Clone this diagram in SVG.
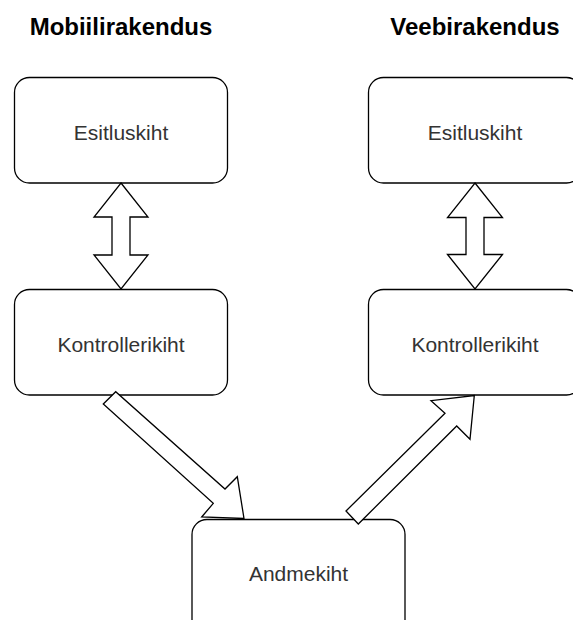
<svg xmlns="http://www.w3.org/2000/svg" width="573" height="620" viewBox="0 0 573 620">
  <style>
    .box { fill: #ffffff; stroke: #000000; stroke-width: 1.3; }
    .lbl { font-family: "Liberation Sans", Arial, sans-serif; font-size: 21px; fill: #333333; text-anchor: middle; }
    .title { font-family: "Liberation Sans", Arial, sans-serif; font-size: 24px; font-weight: bold; fill: #000000; text-anchor: middle; }
    .arrow { fill: #ffffff; stroke: #000000; stroke-width: 1.3; stroke-linejoin: miter; }
  </style>
  <rect width="573" height="620" fill="#ffffff"/>
  <g id="title-mobile"><text class="title" x="121" y="34.5">Mobiilirakendus</text></g>
  <g id="title-web"><text class="title" x="475" y="34.5">Veebirakendus</text></g>

  <g id="node-mobile-esitlus">
    <rect class="box" x="14.5" y="77.5" width="213" height="105.5" rx="15" ry="15"/>
    <text class="lbl" x="121" y="140">Esitluskiht</text>
  </g>
  <g id="node-web-esitlus">
    <rect class="box" x="368.5" y="77.5" width="213" height="105.5" rx="15" ry="15"/>
    <text class="lbl" x="475" y="140">Esitluskiht</text>
  </g>
  <g id="node-mobile-kontroller">
    <rect class="box" x="14.5" y="289.5" width="213" height="105.5" rx="15" ry="15"/>
    <text class="lbl" x="121" y="351.5">Kontrollerikiht</text>
  </g>
  <g id="node-web-kontroller">
    <rect class="box" x="368.5" y="289.5" width="213" height="105.5" rx="15" ry="15"/>
    <text class="lbl" x="475" y="351.5">Kontrollerikiht</text>
  </g>
  <g id="node-andmekiht">
    <rect class="box" x="192" y="519.5" width="213" height="120" rx="15" ry="15"/>
    <text class="lbl" x="298.5" y="581">Andmekiht</text>
  </g>

  <g id="connectors">
    <polygon class="arrow" points="121,183 148,217 130,217 130,255 148,255 121,289 94,255 112,255 112,217 94,217"/>
    <polygon class="arrow" points="475,183 502.5,217.5 484,217.5 484,254.5 502.5,254.5 475,289 447.5,254.5 466,254.5 466,217.5 447.5,217.5"/>
    <polygon class="arrow" points="103.3,404 115.7,391.7 225,489 237.3,476.7 244,518.5 201.7,517 213.3,503.3"/>
    <polygon class="arrow" points="346,511 445,413.3 431,400.7 474.3,395.5 470,439.3 456.7,426 358.3,524"/>
  </g>
</svg>
